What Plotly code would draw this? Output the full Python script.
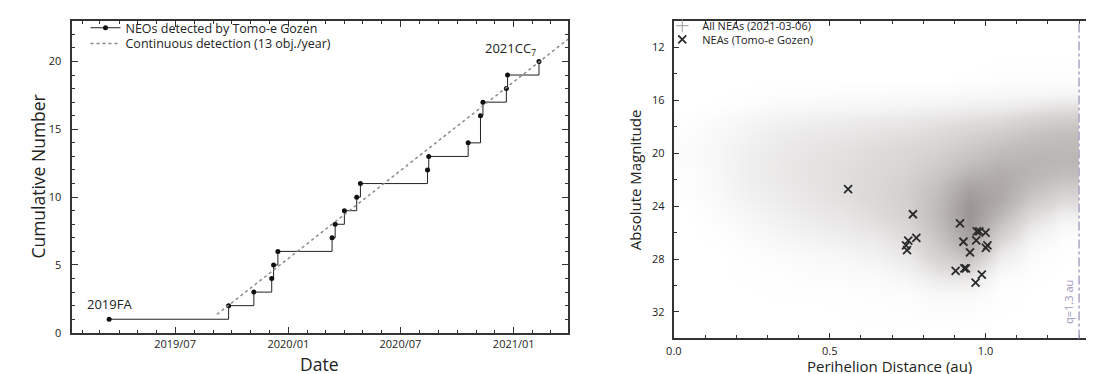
import plotly.graph_objects as go

W, H = 1094, 374

# ---------------- Left panel data ----------------
detection_dates = ["2019-03-16", "2019-09-26", "2019-11-06", "2019-12-05", "2019-12-08",
                   "2019-12-15", "2020-03-12", "2020-03-17", "2020-04-01", "2020-04-21",
                   "2020-04-27", "2020-08-14", "2020-08-16", "2020-10-19", "2020-11-08",
                   "2020-11-12", "2020-12-20", "2020-12-22", "2021-02-11"]
cumulative_counts = [1, 2, 3, 4, 5, 6, 7, 8, 9, 10, 11, 12, 13, 14, 16, 17, 18, 19, 20]
continuous_dates = ["2019-09-07", "2021-03-31"]
continuous_counts = [1.35, 21.67]
label_first = "2019FA"
label_last = "2021CC<sub>7</sub>"

# ---------------- Right panel data ----------------
tomoe_q = [0.559, 0.767, 0.752, 0.778, 0.745, 0.748, 0.918, 0.972, 0.980, 1.000,
           0.929, 0.970, 1.006, 1.001, 0.950, 0.904, 0.932, 0.937, 0.988, 0.968]
tomoe_H = [22.71, 24.61, 26.60, 26.40, 26.96, 27.33, 25.30, 25.90, 25.90, 26.00,
           26.69, 26.59, 26.96, 27.16, 27.50, 28.89, 28.70, 28.70, 29.17, 29.78]

# relative density of all known NEAs on a q x H grid
q_centers = [0.05, 0.15, 0.25, 0.35, 0.45, 0.55, 0.65, 0.75, 0.85, 0.95, 1.05, 1.15, 1.25]
h_centers = [10.5, 11.5, 12.5, 13.5, 14.5, 15.5, 16.5, 17.5, 18.5, 19.5, 20.5, 21.5,
             22.5, 23.5, 24.5, 25.5, 26.5, 27.5, 28.5, 29.5, 30.5, 31.5, 32.5, 33.5]
nea_density = [
    [0, 0, 0, 0, 0, 0, 0, 0, 0, 0, 0, 0, 0],
    [0, 0, 0, 0, 0, 0, 0, 0, 0, 0, 0, 0, 0],
    [0, 0, 0, 0, 0, 0, 0, 0, 0, 0, 0, 0, 0],
    [0, 0, 0, 0, 0, 0, 0, 0, 0, 0, 0.01, 0.01, 0.01],
    [0, 0, 0, 0, 0, 0, 0, 0, 0, 0.01, 0.02, 0.02, 0.02],
    [0, 0, 0.01, 0.02, 0.02, 0.03, 0.03, 0.04, 0.04, 0.05, 0.06, 0.07, 0.08],
    [0, 0.01, 0.03, 0.05, 0.06, 0.07, 0.08, 0.09, 0.11, 0.13, 0.15, 0.19, 0.24],
    [0.01, 0.04, 0.08, 0.11, 0.13, 0.15, 0.17, 0.19, 0.22, 0.26, 0.30, 0.38, 0.44],
    [0.02, 0.06, 0.11, 0.15, 0.18, 0.20, 0.23, 0.26, 0.30, 0.37, 0.44, 0.52, 0.58],
    [0.03, 0.07, 0.13, 0.18, 0.21, 0.24, 0.28, 0.32, 0.37, 0.47, 0.56, 0.62, 0.64],
    [0.03, 0.07, 0.14, 0.19, 0.23, 0.26, 0.30, 0.35, 0.43, 0.56, 0.66, 0.68, 0.66],
    [0.02, 0.07, 0.14, 0.19, 0.23, 0.27, 0.32, 0.38, 0.49, 0.68, 0.76, 0.68, 0.60],
    [0.02, 0.06, 0.13, 0.18, 0.23, 0.27, 0.33, 0.41, 0.57, 0.84, 0.80, 0.60, 0.46],
    [0.01, 0.05, 0.11, 0.16, 0.21, 0.25, 0.32, 0.41, 0.62, 0.95, 0.78, 0.48, 0.30],
    [0, 0.04, 0.08, 0.13, 0.18, 0.22, 0.29, 0.39, 0.63, 1.00, 0.68, 0.33, 0.15],
    [0, 0.02, 0.06, 0.10, 0.14, 0.18, 0.24, 0.34, 0.59, 0.95, 0.52, 0.19, 0.05],
    [0, 0.01, 0.04, 0.07, 0.10, 0.13, 0.18, 0.28, 0.52, 0.85, 0.36, 0.09, 0.02],
    [0, 0, 0.02, 0.04, 0.06, 0.08, 0.12, 0.21, 0.42, 0.65, 0.20, 0.04, 0.01],
    [0, 0, 0.01, 0.02, 0.04, 0.05, 0.07, 0.13, 0.30, 0.40, 0.09, 0.02, 0],
    [0, 0, 0.01, 0.01, 0.02, 0.03, 0.04, 0.07, 0.16, 0.18, 0.03, 0.01, 0],
    [0, 0, 0, 0.01, 0.01, 0.01, 0.02, 0.03, 0.07, 0.07, 0.01, 0, 0],
    [0, 0, 0, 0, 0, 0.01, 0.01, 0.02, 0.03, 0.03, 0.01, 0, 0],
    [0, 0, 0, 0, 0, 0, 0.01, 0.01, 0.01, 0.01, 0, 0, 0],
    [0, 0, 0, 0, 0, 0, 0, 0, 0, 0, 0, 0, 0],
]
nea_q_limit = 1.3

FONT = "Open Sans"
TXT = "#222222"
AX = "#333333"


def px_x(x):
    return x / W


def px_y(y):
    return 1 - y / H


fig = go.Figure()

# ---- left panel ----
fig.add_trace(go.Scatter(
    x=detection_dates, y=cumulative_counts, mode="lines+markers",
    line=dict(color="#222222", width=1, shape="hv"),
    marker=dict(color="#111111", size=5),
    name="NEOs detected by Tomo-e Gozen", legend="legend",
    xaxis="x", yaxis="y"))
fig.add_trace(go.Scatter(
    x=continuous_dates, y=continuous_counts, mode="lines",
    line=dict(color="#8a8a8a", width=1.5, dash="3px,3px"),
    name="Continuous detection (13 obj./year)", legend="legend2",
    xaxis="x", yaxis="y"))

# ---- right panel ----
fig.add_trace(go.Heatmap(
    x=q_centers, y=h_centers, z=nea_density, zmin=0, zmax=1, zsmooth="best",
    colorscale=[[0, "#ffffff"], [0.3, "#dddbda"], [0.65, "#bcb8b6"], [1, "#9a9593"]],
    showscale=False, hoverinfo="skip", xaxis="x2", yaxis="y2"))
fig.add_trace(go.Scatter(
    x=[None], y=[None], mode="markers",
    marker=dict(symbol="cross-thin", size=9, line=dict(color="#999999", width=1)),
    name="All NEAs (2021-03-06)", legend="legend3", xaxis="x2", yaxis="y2"))
fig.add_trace(go.Scatter(
    x=tomoe_q, y=tomoe_H, mode="markers",
    marker=dict(symbol="x-thin", size=8, color="#2a2a2a",
                line=dict(color="#2a2a2a", width=1.8)),
    name="NEAs (Tomo-e Gozen)", legend="legend4", xaxis="x2", yaxis="y2"))

axis_common = dict(showgrid=False, zeroline=False, showline=True, linecolor=AX,
                   linewidth=2, ticks="inside", tickcolor=AX, tickwidth=1,
                   tickfont=dict(family=FONT, size=11, color=TXT))

fig.update_layout(
    width=W, height=H, autosize=False,
    margin=dict(l=0, r=0, t=0, b=0),
    paper_bgcolor="white", plot_bgcolor="white",
    font=dict(family=FONT, color=TXT),
    showlegend=True,
    xaxis=dict(**axis_common, domain=[px_x(56), px_x(556)], anchor="y",
               type="date", range=["2019-01-14", "2021-03-30"],
               tick0="2019-01-01", dtick="M6", tickformat="%Y/%m", ticklen=6,
               mirror="allticks", ticklabelstandoff=0,
               minor=dict(ticks="inside", dtick="M1", ticklen=3, tickcolor=AX)),
    yaxis=dict(**axis_common, domain=[px_y(331), px_y(13)], anchor="x",
               range=[0, 23], dtick=5, tick0=0, ticklen=6, mirror="allticks",
               ticklabelstandoff=6,
               minor=dict(ticks="inside", dtick=1, ticklen=3, tickcolor=AX)),
    xaxis2=dict(**axis_common, domain=[px_x(662.7), 1.0], anchor="y2",
                range=[0, 1.3736], dtick=0.5, tick0=0, tickformat=".1f", ticklen=5,
                mirror="allticks", ticklabelstandoff=1,
                minor=dict(ticks="inside", dtick=0.1, ticklen=3, tickcolor=AX)),
    yaxis2=dict(**axis_common, domain=[px_y(336.7), px_y(13.3)], anchor="x2",
                range=[34, 10], dtick=4, tick0=0, ticklen=5, mirror=False,
                ticklabelstandoff=5,
                minor=dict(ticks="inside", dtick=2, ticklen=3, tickcolor=AX)),
)

leg_common = dict(bgcolor="rgba(0,0,0,0)", borderwidth=0, xanchor="left",
                  yanchor="middle", orientation="v")
fig.update_layout(
    legend=dict(**leg_common, x=px_x(70), y=px_y(20.5), font=dict(family=FONT, size=12.5, color=TXT)),
    legend2=dict(**leg_common, x=px_x(70), y=px_y(36.5), font=dict(family=FONT, size=12.5, color=TXT)),
    legend3=dict(**leg_common, x=px_x(651), y=px_y(18), font=dict(family=FONT, size=11, color=TXT)),
    legend4=dict(**leg_common, x=px_x(651), y=px_y(32), font=dict(family=FONT, size=11, color=TXT)),
)

# q = 1.3 au limit
fig.add_shape(type="line", xref="x2", yref="y2 domain", x0=nea_q_limit, x1=nea_q_limit,
              y0=0, y1=1, line=dict(color="#aaa3c2", width=1.5, dash="dashdot"))
fig.add_annotation(xref="x2", yref="y2", x=nea_q_limit, y=34, text="q=1.3 au",
                   textangle=-90, xanchor="right", yanchor="bottom", xshift=-1, yshift=12,
                   showarrow=False, font=dict(family=FONT, size=11, color="#9d95b8"))

# point labels
fig.add_annotation(xref="x", yref="y", x=detection_dates[0], y=cumulative_counts[0],
                   text=label_first, showarrow=False, xanchor="center", yanchor="bottom",
                   yshift=4, font=dict(family=FONT, size=13, color=TXT))
fig.add_annotation(xref="x", yref="y", x=detection_dates[-1], y=cumulative_counts[-1],
                   text=label_last, showarrow=False, xanchor="right", yanchor="bottom",
                   xshift=-1, yshift=0, font=dict(family=FONT, size=13, color=TXT))

# axis titles
title_font_l = dict(family=FONT, size=17.5, color=TXT)
title_font_r = dict(family=FONT, size=15, color=TXT)
fig.add_annotation(xref="paper", yref="paper", x=px_x(22), y=px_y(172),
                   text="Cumulative Number", textangle=-90, showarrow=False,
                   xanchor="center", yanchor="middle", font=title_font_l)
fig.add_annotation(xref="paper", yref="paper", x=px_x(306), y=px_y(363),
                   text="Date", showarrow=False, xanchor="center", yanchor="middle",
                   font=title_font_l)
fig.add_annotation(xref="paper", yref="paper", x=px_x(623), y=px_y(175),
                   text="Absolute Magnitude", textangle=-90, showarrow=False,
                   xanchor="center", yanchor="middle", font=title_font_r)
fig.add_annotation(xref="paper", yref="paper", x=px_x(880), y=px_y(364.5),
                   text="Perihelion Distance (au)", showarrow=False, xanchor="center",
                   yanchor="middle", font=title_font_r)

fig.write_html("out.html")
